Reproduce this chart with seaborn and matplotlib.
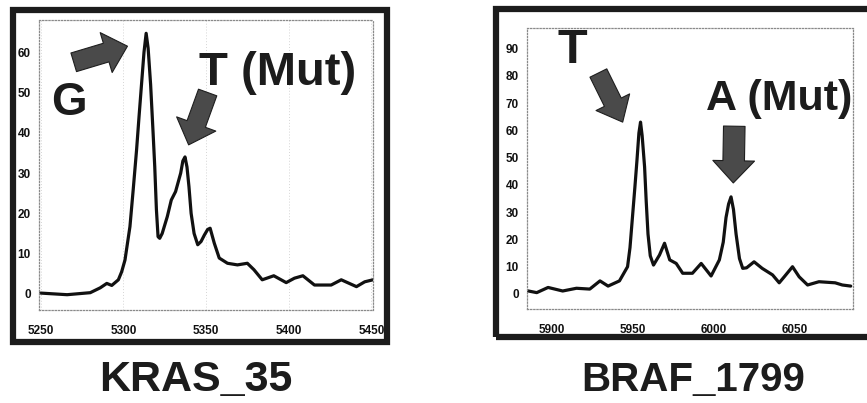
import numpy as np
import pandas as pd
import matplotlib
matplotlib.use("Agg")
import matplotlib.pyplot as plt
from matplotlib.patches import Rectangle
from matplotlib.ticker import MultipleLocator
import seaborn as sns

# ---------------- data ----------------
kras_pos = [5250, 5266, 5280, 5286, 5290, 5293, 5297, 5299, 5301, 5304, 5306, 5308, 5309.5,
            5311, 5312.5, 5313.8, 5315, 5316.5, 5318, 5319, 5320, 5321, 5322, 5323.5,
            5326.6, 5329, 5331.6, 5334.7, 5336, 5337.3, 5338.5, 5339.7, 5341,
            5342.8, 5345, 5347, 5349, 5351, 5352.5, 5355, 5358, 5363, 5369, 5375, 5379,
            5384, 5391, 5398.5, 5403.5, 5408.6, 5415.6, 5425.7, 5431.8, 5441, 5446, 5451]
kras_int = [0.2, -0.2, 0.3, 1.5, 2.6, 2.1, 3.5, 5.5, 8.4, 16.7, 26, 35.7, 44,
            52, 60, 64.7, 61, 52, 40, 31.6, 21, 14.2, 13.8, 15,
            19.2, 23.3, 25.4, 30, 33, 34, 31.5, 26.6, 20,
            15, 12.2, 13, 14.6, 16, 16.3, 12.6, 8.9, 7.6, 7.2, 7.6, 6,
            3.5, 4.5, 2.8, 3.9, 4.5, 2.2, 2.2, 3.5, 1.8, 3, 3.5]

braf_pos = [5885, 5891, 5898, 5907, 5915.5, 5923.7, 5930, 5935, 5942, 5947, 5948.5, 5950,
            5951.5, 5952.8, 5954, 5955, 5956, 5957.5, 5958.5, 5959.6, 5961, 5963, 5966.7,
            5969.8, 5973, 5977, 5981, 5987, 5992.4, 5998.5, 6003.6, 6006, 6007.7, 6009.3,
            6010.8, 6012.3, 6013.9, 6016, 6018, 6020.4, 6025, 6030, 6036.4, 6040.5,
            6043.6, 6048.7, 6052.8, 6058, 6065, 6075, 6079.4, 6084.6]
braf_int = [1.2, 0.5, 2.4, 1.1, 2.1, 1.8, 4.8, 2.9, 4.8, 10, 17, 28,
            39, 49, 59, 63, 58, 46.6, 34, 22, 14, 10.6, 14.3,
            18.6, 12.5, 11.2, 7.6, 7.6, 11.2, 6.6, 12.5, 19, 28, 33,
            35.6, 31, 22, 13, 9.4, 9.6, 11.8, 9.4, 7, 4.1,
            6.3, 10, 6.3, 3.3, 4.5, 4.1, 3.3, 2.9]

kras_xticks = [5250, 5300, 5350, 5400, 5450]
kras_yticks = [0, 10, 20, 30, 40, 50, 60]
braf_xticks = [5900, 5950, 6000, 6050]
braf_yticks = [0, 10, 20, 30, 40, 50, 60, 70, 80, 90]

kras_title = "KRAS_35"
braf_title = "BRAF_1799"
kras_labels = ["G", "T (Mut)"]
braf_labels = ["T", "A (Mut)"]

# ---------------- style ----------------
sns.set_style("white")
plt.rcParams['font.family'] = ['Liberation Sans', 'DejaVu Sans']

W, H = 867, 403
fig = plt.figure(figsize=(W / 100, H / 100), dpi=100)

def fpx(x0, y0, x1, y1):
    return [x0 / W, 1 - y1 / H, (x1 - x0) / W, (y1 - y0) / H]

ax1 = fig.add_axes(fpx(39, 20, 373, 310))
ax2 = fig.add_axes(fpx(527, 28, 853, 309))

df1 = pd.DataFrame({"pos": kras_pos, "intensity": kras_int})
df2 = pd.DataFrame({"pos": braf_pos, "intensity": braf_int})

sns.lineplot(data=df1, x="pos", y="intensity", ax=ax1, color="#111111", lw=2.3,
             solid_joinstyle="round", solid_capstyle="round")
sns.lineplot(data=df2, x="pos", y="intensity", ax=ax2, color="#111111", lw=2.3,
             solid_joinstyle="round", solid_capstyle="round")

ax1.set_xlim(5249, 5451)
ax1.set_ylim(-4, 68)
ax2.set_xlim(5885, 6086)
ax2.set_ylim(-5.5, 97.5)

for ax, xt, yt in [(ax1, kras_xticks, kras_yticks), (ax2, braf_xticks, braf_yticks)]:
    ax.set_xticks(xt)
    ax.set_yticks(yt)
    ax.xaxis.set_minor_locator(MultipleLocator(10))
    ax.yaxis.set_minor_locator(MultipleLocator(5))
    ax.set_xlabel("")
    ax.set_ylabel("")
    for s in ax.spines.values():
        s.set_linestyle((0, (1, 1.5)))
        s.set_color("#8a8a8a")
        s.set_linewidth(0.9)
    ax.tick_params(axis="x", which="major", direction="inout", length=7, width=0.7,
                   color="#888888", pad=7)
    ax.tick_params(axis="x", which="minor", direction="in", length=4, width=0.7,
                   color="#888888")
    ax.tick_params(axis="y", which="major", direction="out", length=4, width=0.7,
                   color="#888888", pad=2)
    ax.tick_params(axis="y", which="minor", direction="out", length=2, width=0.6,
                   color="#aaaaaa")
    for lab in ax.get_xticklabels() + ax.get_yticklabels():
        lab.set_fontsize(8.5)
        lab.set_fontweight("heavy")
        lab.set_color("#111111")
    ax.set_facecolor("none")

ax1.grid(axis="x", color="#d5d5d5", linestyle=(0, (1, 2)), lw=0.7)

# ---------------- frames ----------------
for (x0, y0, x1, y1) in [(13, 10, 387, 342), (496, 9, 872, 337)]:
    fig.patches.append(Rectangle((x0 / W, 1 - y1 / H), (x1 - x0) / W, (y1 - y0) / H,
                                 transform=fig.transFigure, fill=False,
                                 ec="#1c1c1c", lw=4.5, zorder=0))

# ---------------- captions ----------------
def ftext(x, y, s, size):
    fig.text(x / W, 1 - y / H, s, ha="center", va="baseline", fontsize=size,
             fontweight="bold", color="#1c1c1c")

ftext(196, 391, kras_title, 31)
ftext(693, 391, braf_title, 29)
ftext(69, 115, kras_labels[0], 33)
ftext(278, 85, kras_labels[1], 34)
ftext(572, 63, braf_labels[0], 35)
ftext(779, 110, braf_labels[1], 31)

# ---------------- block arrows ----------------
def block_arrow(ax, tail, tip, hw=3.0, hl=1.6, tw=1.4):
    ax.annotate("", xy=tip, xytext=tail, xycoords="data", textcoords="data",
                annotation_clip=False,
                arrowprops=dict(arrowstyle=f"simple,head_length={hl},head_width={hw},tail_width={tw}",
                                fc="#4a4a4a", ec="#1e1e1e", lw=0.8,
                                shrinkA=0, shrinkB=0, mutation_scale=10))

block_arrow(ax1, (5270.0, 57.5), (5302.5, 61.5))
block_arrow(ax1, (5351.0, 50.0), (5339.5, 37.0))
block_arrow(ax2, (5929.0, 81.0), (5944.0, 63.0), hw=2.7, tw=1.35)
block_arrow(ax2, (6012.8, 61.5), (6012.2, 40.7), hw=3.0, tw=1.55)

fig.savefig("out.png", dpi=100)
